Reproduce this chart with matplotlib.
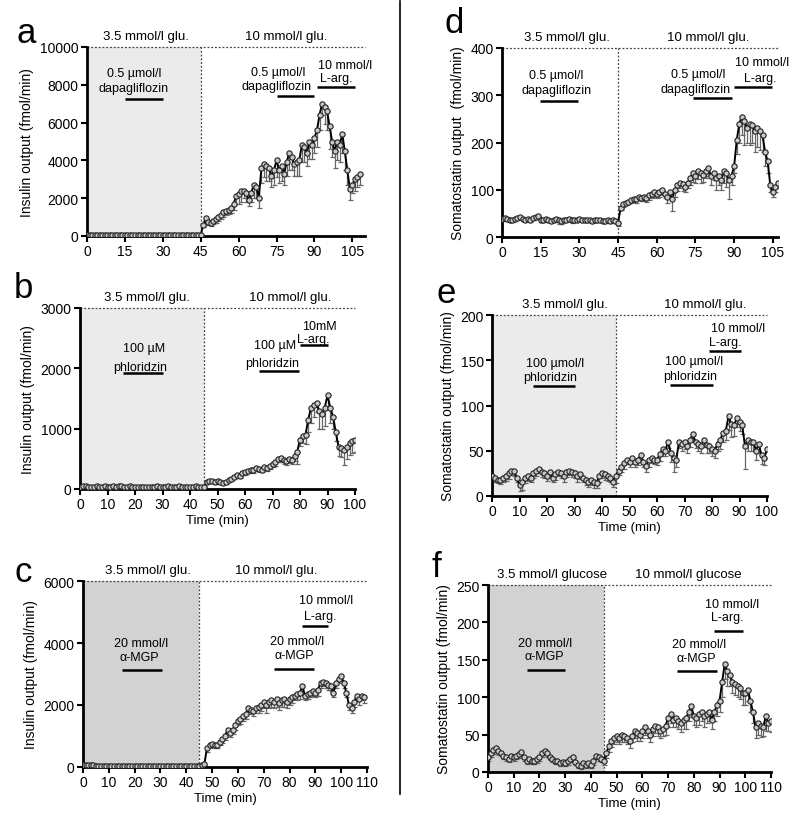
import matplotlib
matplotlib.use("Agg")
import matplotlib.pyplot as plt
from matplotlib.lines import Line2D
import numpy as np

plt.rcParams['font.family'] = ['Liberation Sans', 'DejaVu Sans']

# ---------------- data ----------------
# Panel a: insulin, dapagliflozin (t = 0..108 min)
a_val = [60,55,65,60,50,60,70,55,60,65,
         60,55,50,60,65,60,55,60,70,60,
         55,60,50,55,60,65,60,50,55,60,
         60,55,65,60,50,55,60,65,55,60,
         50,55,60,50,55,60,600,950,750,700,
         800,900,1000,1100,1250,1300,1400,1500,1700,2100,
         2200,2400,2400,2300,1900,2300,2700,2600,2000,3600,
         3800,3700,3600,3200,3500,4000,3500,3700,3300,3900,
         4400,4200,3800,3900,4000,4800,4700,4400,5000,4800,
         5200,5600,6400,7000,6800,6600,5800,5000,4500,5000,
         4800,5400,4500,3500,2500,2700,3000,3100,3300]
a_err = [20,15,20,25,15,20,20,15,20,20,
         20,15,20,20,25,20,15,20,20,20,
         15,20,20,15,20,25,20,15,20,20,
         20,15,20,20,15,20,20,15,20,20,
         15,20,20,15,20,20,150,200,150,150,
         150,200,200,200,250,200,250,300,300,400,
         500,600,400,500,300,500,700,600,500,800,
         700,800,700,600,800,900,700,800,600,700,
         900,700,600,700,800,900,800,700,900,700,
         800,900,800,600,900,1000,1200,800,900,1000,
         900,1000,1000,800,600,400,600,500,600]

# Panel d: somatostatin, dapagliflozin (t = 0..107 min)
d_val = [38,40,38,35,36,38,40,42,38,37,
         38,36,40,42,44,35,36,38,35,34,
         36,38,35,33,37,36,38,35,37,36,
         38,36,37,35,36,34,35,37,36,33,
         34,35,33,36,34,30,62,70,72,75,
         78,80,80,85,82,85,82,88,90,95,
         92,95,100,90,85,95,80,100,110,115,
         112,105,115,125,135,130,140,135,132,140,
         145,130,135,125,130,120,140,135,120,130,
         150,205,240,255,245,230,240,238,225,230,
         225,215,180,160,110,95,105,115]
d_err = [4,3,4,3,4,3,4,4,3,4,
         3,4,5,4,4,3,4,5,4,3,
         4,4,8,5,4,3,4,5,4,4,
         3,4,4,3,4,4,3,3,4,4,
         3,4,3,4,3,6,5,6,5,6,
         6,6,8,7,6,8,7,10,8,10,
         9,10,12,8,12,10,25,15,12,12,
         15,10,12,15,18,15,18,20,15,15,
         15,20,15,25,20,20,25,30,40,20,
         15,30,40,40,50,30,45,40,45,40,
         40,35,30,25,15,10,10,12]

# Panel b: insulin, phloridzin (t = 0..100 min)
b_val = [40,45,42,40,38,40,42,38,40,42,
         40,38,42,40,44,45,40,38,42,40,
         38,36,32,30,35,38,36,40,42,38,
         40,38,42,40,38,40,42,40,38,36,
         38,40,42,38,30,40,120,130,125,110,
         140,120,100,110,150,160,200,240,220,260,
         280,300,320,310,340,330,320,360,350,380,
         420,440,500,520,480,460,500,480,550,620,
         820,880,900,1150,1350,1400,1420,1300,1250,1350,
         1550,1350,1200,950,700,680,650,700,760,800,
         810]
b_err = [10,12,10,8,10,12,10,8,10,12,
         10,8,12,10,12,15,10,8,10,10,
         8,10,8,8,10,10,8,10,12,10,
         10,8,10,12,10,10,10,12,10,8,
         10,10,12,10,8,10,20,25,20,20,
         25,20,20,20,25,25,30,30,30,35,
         40,40,40,40,45,40,40,50,45,50,
         60,60,60,70,60,60,70,60,80,200,
         100,120,150,200,250,200,150,300,250,300,
         200,250,200,150,150,150,250,200,200,200,
         200]

# Panel e: somatostatin, phloridzin (t = 0..100 min)
e_val = [22,20,18,18,20,22,25,28,28,20,
         12,15,20,22,20,25,28,30,27,25,
         22,26,20,24,27,25,22,26,28,27,
         25,22,24,20,18,15,18,15,14,22,
         25,24,22,20,16,22,28,32,36,40,
         38,42,38,40,45,38,33,40,42,40,
         40,46,52,50,60,48,42,40,60,58,
         60,55,62,68,60,58,55,62,56,55,
         52,50,58,62,70,72,88,80,78,86,
         82,78,55,62,60,60,50,58,45,42,
         52]
e_err = [6,5,4,5,4,5,6,5,6,5,
         6,8,6,5,4,5,6,5,6,5,
         5,6,5,6,5,5,6,5,5,6,
         5,6,5,5,6,5,6,6,5,6,
         5,6,5,5,6,8,5,6,6,5,
         6,5,6,6,7,6,6,8,6,5,
         6,7,8,6,7,10,15,8,7,8,
         8,7,8,8,7,8,7,8,8,7,
         8,8,8,10,10,10,15,15,12,10,
         10,10,25,12,10,10,10,10,10,8,
         10]

# Panel c: insulin, alpha-MGP (t = 0..109 min)
c_val = [80,80,70,60,50,40,30,25,20,20,
         20,22,20,18,20,22,20,18,20,20,
         20,18,20,22,20,18,20,20,22,20,
         18,20,20,22,20,18,20,20,18,20,
         20,22,20,18,20,20,50,100,600,700,
         750,700,720,800,900,1000,1200,1100,1200,1350,
         1500,1550,1650,1700,1900,1850,1800,1900,1950,2000,
         2100,2000,2100,2150,2100,2200,2050,2150,2200,2100,
         2200,2250,2300,2350,2400,2600,2300,2350,2400,2450,
         2400,2500,2700,2750,2700,2650,2600,2400,2700,2850,
         2950,2700,2400,2000,1900,2100,2300,2200,2300,2250]
c_err = [30,25,20,20,15,15,10,10,10,10,
         10,10,10,10,10,10,10,10,10,10,
         10,10,10,10,10,10,10,10,10,10,
         10,10,10,10,10,10,10,10,10,10,
         10,10,10,10,10,10,20,50,100,100,
         100,100,100,100,120,120,150,120,150,150,
         150,150,150,150,200,150,150,150,200,200,
         200,250,200,200,200,250,200,200,250,200,
         200,200,150,200,200,200,150,150,150,150,
         150,200,150,150,150,150,150,150,150,150,
         150,150,150,150,150,150,150,200,150,200]

# Panel f: somatostatin, alpha-MGP (t = 0..110 min)
f_val = [20,25,30,32,28,25,22,20,18,22,
         20,22,24,27,20,15,18,15,15,17,
         20,25,28,25,20,18,15,15,12,14,
         12,15,18,20,14,10,8,12,10,12,
         10,15,22,20,18,15,25,35,42,45,
         48,45,50,48,45,42,48,55,52,50,
         55,60,55,50,58,62,60,55,58,62,
         72,78,70,72,68,65,70,72,80,88,
         75,72,78,80,75,78,80,70,80,90,
         95,120,145,135,130,120,118,115,112,105,
         105,110,95,80,60,65,62,60,75,65,68]
f_err = [5,5,6,5,5,4,5,5,4,5,
         5,4,5,5,5,4,5,4,4,5,
         5,5,5,5,4,5,4,4,4,5,
         4,5,5,5,4,4,4,5,4,5,
         4,5,5,5,5,5,6,8,8,8,
         8,8,10,8,8,10,8,10,10,8,
         10,10,10,10,10,10,12,10,10,12,
         12,12,10,12,10,12,12,15,12,15,
         12,12,15,12,15,12,12,12,12,15,
         15,20,20,20,15,15,15,15,15,15,
         15,15,15,15,15,15,15,12,20,10,15]

# ---------------- layout helpers ----------------
W, H = 800, 829
fig = plt.figure(figsize=(W / 100, H / 100), dpi=100)


def add_ax(x0, x1, ytop, ybot):
    return fig.add_axes([x0 / W, (H - ybot) / H, (x1 - x0) / W, (ybot - ytop) / H])


def panel(ax, val, err, xmax, ymax, xticks, yticks, ylabel, shade, letter,
          letter_xy, cond, drugs, xlabel=True):
    t = np.arange(len(val))
    val = np.asarray(val, float)
    err = np.asarray(err, float)
    if shade is not None:
        ax.axvspan(0, 45, ymin=0, ymax=1, color=shade, zorder=0, lw=0)
    ax.errorbar(t, val, yerr=[err, np.zeros_like(err)], fmt='none',
                ecolor='#666666', elinewidth=0.9, capsize=1.8, capthick=0.9, zorder=2)
    ax.plot(t, val, '-', color='black', lw=1.4, zorder=3)
    ax.plot(t, val, 'o', ms=3.8, mfc='#c8c8c8', mec='#222222', mew=0.8, zorder=4)
    ax.plot([0, xmax], [ymax, ymax], ls=(0, (1.5, 1.5)), color='#444444', lw=0.9,
            clip_on=False, zorder=1)
    ax.plot([45, 45], [0, ymax], ls=(0, (1.5, 1.5)), color='#444444', lw=0.9,
            clip_on=False, zorder=1)
    ax.set_xlim(0, xmax)
    ax.set_ylim(0, ymax)
    ax.set_xticks(xticks)
    ax.set_yticks(yticks)
    for s in ['top', 'right']:
        ax.spines[s].set_visible(False)
    for s in ['left', 'bottom']:
        ax.spines[s].set_linewidth(2)
    ax.tick_params(width=1.5, length=4, labelsize=10, pad=2)
    ax.set_ylabel(ylabel, fontsize=10, labelpad=4)
    if xlabel:
        ax.set_xlabel('Time (min)', fontsize=9.5, labelpad=2)
    fig.text(letter_xy[0] / W, 1 - letter_xy[1] / H, letter, fontsize=25,
             ha='left', va='baseline')
    for txt, x in cond:
        ax.annotate(txt, xy=(x, 1), xycoords=('data', 'axes fraction'),
                    xytext=(0, 3.5), textcoords='offset points',
                    ha='center', va='bottom', fontsize=9.5)
    for lines, bar in drugs:
        for txt, x, y in lines:
            ax.text(x, y, txt, ha='center', va='center', fontsize=9)
        ax.plot([bar[0], bar[1]], [bar[2], bar[2]], color='black', lw=1.8,
                solid_capstyle='butt', zorder=5)


mu = '\u00b5'

# a
ax_a = add_ax(87, 365, 48, 237)
panel(ax_a, a_val, a_err, 110, 10000, range(0, 106, 15), range(0, 10001, 2000),
      'Insulin output (fmol/min)', '#ebebeb', 'a', (16, 43),
      [('3.5 mmol/l glu.', 23.5), ('10 mmol/l glu.', 79)],
      [([('0.5 ' + mu + 'mol/l', 18.5, 8650), ('dapagliflozin', 18.5, 7850)], (15, 30, 7250)),
       ([('0.5 ' + mu + 'mol/l', 75.5, 8700), ('dapagliflozin', 75, 7950)], (75, 90, 7400)),
       ([('10 mmol/l', 102, 9050), ('L-arg.', 98.5, 8350)], (91, 106, 7880))],
      xlabel=False)

# d
ax_d = add_ax(502, 778, 49, 238)
panel(ax_d, d_val, d_err, 107, 400, range(0, 106, 15), range(0, 401, 100),
      'Somatostatin output  (fmol/min)', None, 'd', (444, 33),
      [('3.5 mmol/l glu.', 25), ('10 mmol/l glu.', 80)],
      [([('0.5 ' + mu + 'mol/l', 21, 343), ('dapagliflozin', 21, 312)], (14.7, 29.5, 288)),
       ([('0.5 ' + mu + 'mol/l', 76, 346), ('dapagliflozin', 75, 314)], (74, 89, 294)),
       ([('10 mmol/l', 100.7, 371), ('L-arg.', 100, 337)], (90, 104.6, 317))],
      xlabel=False)

# b
ax_b = add_ax(80, 355, 309, 490)
panel(ax_b, b_val, b_err, 100, 3000, range(0, 101, 10), range(0, 3001, 1000),
      'Insulin output (fmol/min)', '#ebebeb', 'b', (14, 298),
      [('3.5 mmol/l glu.', 24.5), ('10 mmol/l glu.', 76.6)],
      [([('100 ' + mu + 'M', 23.4, 2330), ('phloridzin', 22, 2030)], (15.7, 30.3, 1920)),
       ([('100 ' + mu + 'M', 70.8, 2380), ('phloridzin', 70, 2090)], (65, 79.6, 1960)),
       ([('10mM', 87, 2700), ('L-arg.', 85, 2480)], (80, 90, 2390))])

# e
ax_e = add_ax(492, 767, 316, 497)
panel(ax_e, e_val, e_err, 100, 200, range(0, 101, 10), range(0, 201, 50),
      'Somatostatin output (fmol/min)', '#ebebeb', 'e', (436, 303),
      [('3.5 mmol/l glu.', 26.6), ('10 mmol/l glu.', 77.7)],
      [([('100 ' + mu + 'mol/l', 23, 147), ('phloridzin', 21, 131)], (15, 30.3, 122)),
       ([('100 ' + mu + 'mol/l', 73.4, 149), ('phloridzin', 72, 133)], (64.6, 80.3, 123)),
       ([('10 mmol/l', 89.4, 186), ('L-arg.', 85, 170)], (79, 90.5, 160))])

# c
ax_c = add_ax(83, 367, 582, 768)
panel(ax_c, c_val, c_err, 110, 6000, range(0, 111, 10), range(0, 6001, 2000),
      'Insulin output (fmol/min)', '#d2d2d2', 'c', (14, 582),
      [('3.5 mmol/l glu.', 25), ('10 mmol/l glu.', 75)],
      [([('20 mmol/l', 22.5, 4000), ('\u03b1-MGP', 22, 3560)], (15, 30.6, 3130)),
       ([('20 mmol/l', 83, 4080), ('\u03b1-MGP', 82, 3600)], (74, 89.5, 3160)),
       ([('10 mmol/l', 94, 5380), ('L-arg.', 92, 4880)], (85, 95, 4550))])

# f
ax_f = add_ax(488, 771, 586, 773)
panel(ax_f, f_val, f_err, 110, 250, range(0, 111, 10), range(0, 251, 50),
      'Somatostatin output (fmol/min)', '#d2d2d2', 'f', (432, 577),
      [('3.5 mmol/l glucose', 24.9), ('10 mmol/l glucose', 77.8)],
      [([('20 mmol/l', 22, 173), ('\u03b1-MGP', 22, 155)], (15, 30, 136)),
       ([('20 mmol/l', 82, 171), ('\u03b1-MGP', 81, 153)], (73.5, 89, 135)),
       ([('10 mmol/l', 95, 225), ('L-arg.', 93, 207)], (88, 99, 189))])

# vertical divider
fig.add_artist(Line2D([400 / W, 400 / W], [1 - 2 / H, 1 - 795 / H], color='black', lw=1.2))

fig.savefig('out.png', dpi=100)
